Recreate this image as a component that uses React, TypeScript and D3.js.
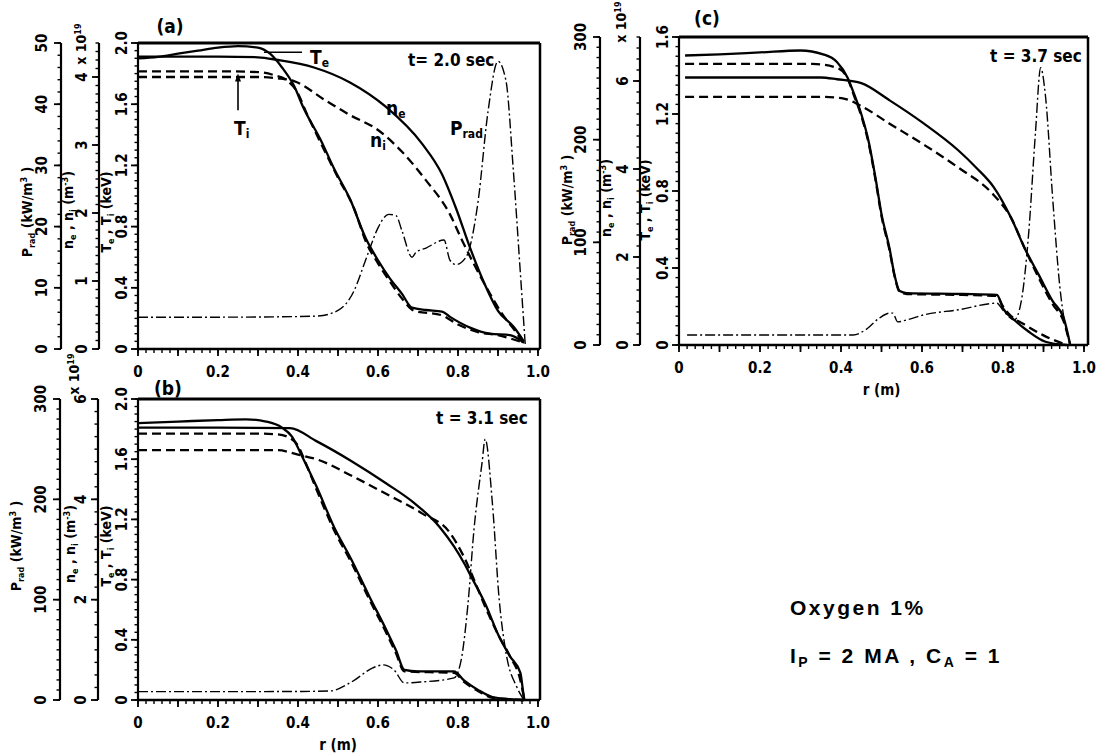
import React from "react";
import * as d3 from "d3";

type Pt = [number, number];

// ---------------- panel (a) : t = 2.0 sec ----------------
const aTe: Pt[] = [[0,1.90],[0.05,1.91],[0.1,1.93],[0.15,1.95],[0.2,1.97],[0.25,1.98],[0.3,1.97],[0.33,1.93],[0.36,1.84],[0.39,1.72],[0.413,1.58],[0.458,1.36],[0.49,1.18],[0.53,0.98],[0.57,0.72],[0.6,0.58],[0.63,0.46],[0.66,0.36],[0.685,0.27],[0.72,0.255],[0.76,0.245],[0.78,0.21],[0.83,0.14],[0.88,0.10],[0.93,0.09],[0.965,0.04]];
const aTi: Pt[] = [[0,1.815],[0.1,1.815],[0.2,1.815],[0.3,1.81],[0.34,1.79],[0.37,1.76],[0.4,1.67],[0.42,1.55],[0.46,1.33],[0.5,1.12],[0.54,0.92],[0.57,0.70],[0.6,0.56],[0.63,0.44],[0.66,0.33],[0.69,0.25],[0.76,0.22],[0.8,0.16],[0.85,0.11],[0.9,0.09],[0.965,0.04]];
const aNe: Pt[] = [[0,4.30],[0.1,4.30],[0.2,4.30],[0.3,4.29],[0.35,4.25],[0.44,4.14],[0.53,3.92],[0.62,3.56],[0.71,3.02],[0.76,2.57],[0.795,2.07],[0.83,1.49],[0.867,0.95],[0.9,0.56],[0.94,0.32],[0.965,0.11]];
const aNi: Pt[] = [[0,4.0],[0.2,4.0],[0.3,4.0],[0.35,3.98],[0.39,3.94],[0.47,3.65],[0.53,3.44],[0.6,3.22],[0.66,2.9],[0.72,2.48],[0.78,1.98],[0.81,1.6],[0.867,0.95],[0.91,0.52],[0.947,0.23],[0.965,0.07]];
const aPrad: Pt[] = [[0,5.2],[0.2,5.2],[0.4,5.3],[0.45,5.4],[0.5,6.3],[0.54,9.5],[0.565,13.8],[0.58,16.5],[0.6,19.8],[0.627,22],[0.645,21.8],[0.66,19.3],[0.685,15],[0.695,15.8],[0.72,16.5],[0.765,17.8],[0.78,14.5],[0.795,13.8],[0.82,15],[0.85,24],[0.875,38.8],[0.9,47],[0.92,43.8],[0.938,29.5],[0.955,13.3],[0.968,0.8]];
const aKeVTicks = [0, 0.4, 0.8, 1.2, 1.6, 2.0];
const aKeVLabels = ["0", "0.4", "0.8", "1.2", "1.6", "2.0"];
const aNTicks = [0, 1, 2, 3, 4];
const aPTicks = [0, 10, 20, 30, 40, 50];

// ---------------- panel (b) : t = 3.1 sec ----------------
const bTe: Pt[] = [[0,1.84],[0.1,1.85],[0.2,1.86],[0.27,1.865],[0.32,1.85],[0.36,1.81],[0.385,1.75],[0.41,1.62],[0.446,1.42],[0.49,1.15],[0.534,0.93],[0.578,0.69],[0.62,0.47],[0.645,0.33],[0.666,0.20],[0.7,0.19],[0.79,0.19],[0.815,0.13],[0.85,0.067],[0.886,0.02],[0.93,0.005],[0.965,0]];
const bTi: Pt[] = [[0,1.77],[0.2,1.77],[0.3,1.77],[0.35,1.765],[0.38,1.74],[0.4,1.69],[0.42,1.57],[0.446,1.40],[0.49,1.13],[0.534,0.91],[0.578,0.67],[0.62,0.45],[0.645,0.31],[0.666,0.19],[0.79,0.18],[0.815,0.12],[0.85,0.06],[0.886,0.015],[0.965,0]];
const bNe: Pt[] = [[0,5.43],[0.2,5.43],[0.38,5.42],[0.446,5.16],[0.534,4.76],[0.62,4.32],[0.69,3.93],[0.754,3.45],[0.79,3.06],[0.815,2.73],[0.833,2.46],[0.868,1.92],[0.903,1.26],[0.93,0.87],[0.956,0.54],[0.963,0.15],[0.966,0]];
const bNi: Pt[] = [[0,4.98],[0.2,4.98],[0.35,4.98],[0.4,4.89],[0.446,4.8],[0.534,4.47],[0.62,4.11],[0.71,3.72],[0.78,3.33],[0.815,2.85],[0.84,2.4],[0.868,1.86],[0.903,1.26],[0.93,0.87],[0.956,0.39],[0.966,0]];
const bPrad: Pt[] = [[0,8.3],[0.2,8.3],[0.4,8.5],[0.48,9],[0.534,18],[0.587,32],[0.613,35],[0.64,30],[0.666,17],[0.71,18],[0.79,22],[0.808,40],[0.825,96],[0.84,170],[0.86,236],[0.868,260],[0.886,196],[0.903,100],[0.92,47],[0.947,13],[0.965,0]];
const bKeVTicks = [0, 0.4, 0.8, 1.2, 1.6, 2.0];
const bKeVLabels = ["0", "0.4", "0.8", "1.2", "1.6", "2.0"];
const bNTicks = [0, 2, 4, 6];
const bPTicks = [0, 100, 200, 300];

// ---------------- panel (c) : t = 3.7 sec ----------------
const cTe: Pt[] = [[0.015,1.504],[0.1,1.51],[0.2,1.52],[0.3,1.53],[0.356,1.51],[0.39,1.47],[0.416,1.39],[0.433,1.30],[0.45,1.2],[0.468,1.06],[0.485,0.87],[0.5,0.68],[0.52,0.5],[0.532,0.365],[0.545,0.28],[0.562,0.27],[0.7,0.265],[0.785,0.26],[0.8,0.19],[0.828,0.13],[0.863,0.07],[0.905,0.017],[0.957,0]];
const cTi: Pt[] = [[0.015,1.46],[0.2,1.46],[0.33,1.46],[0.39,1.44],[0.416,1.385],[0.433,1.29],[0.45,1.19],[0.468,1.05],[0.485,0.86],[0.5,0.67],[0.52,0.49],[0.532,0.36],[0.545,0.275],[0.562,0.265],[0.7,0.26],[0.785,0.255],[0.8,0.2],[0.82,0.15],[0.85,0.11],[0.9,0.05],[0.957,0]];
const cNe: Pt[] = [[0.015,6.08],[0.2,6.08],[0.35,6.08],[0.39,6.04],[0.45,5.95],[0.52,5.56],[0.605,5.03],[0.69,4.42],[0.734,4.03],[0.777,3.59],[0.82,2.89],[0.854,2.19],[0.888,1.6],[0.923,0.99],[0.95,0.61],[0.966,0]];
const cNi: Pt[] = [[0.015,5.64],[0.2,5.64],[0.35,5.64],[0.407,5.6],[0.45,5.43],[0.52,5.03],[0.605,4.55],[0.69,4.03],[0.777,3.41],[0.82,2.89],[0.854,2.19],[0.888,1.53],[0.923,0.92],[0.95,0.53],[0.966,0]];
const cPrad: Pt[] = [[0.02,9.8],[0.43,9.8],[0.46,14.6],[0.494,26],[0.52,31],[0.528,31],[0.54,22.5],[0.562,24.4],[0.605,29.4],[0.69,34.3],[0.785,40.7],[0.8,33.8],[0.828,24.4],[0.845,42.4],[0.863,107],[0.88,206],[0.893,270],[0.905,242],[0.923,141],[0.94,58],[0.966,0]];
const cKeVTicks = [0, 0.4, 0.8, 1.2, 1.6];
const cKeVLabels = ["0", "0.4", "0.8", "1.2", "1.6"];
const cNTicks = [0, 2, 4, 6];
const cPTicks = [0, 100, 200, 300];

const rTicks = [0, 0.2, 0.4, 0.6, 0.8, 1.0];
const rLabels = ["0", "0.2", "0.4", "0.6", "0.8", "1.0"];

const FONT = "'Liberation Sans Narrow','DejaVu Sans Condensed','Liberation Sans',sans-serif";

const panels = [
  {
    tag: "(a)", time: "t= 2.0 sec", showR: false,
    te: aTe, ti: aTi, ne: aNe, ni: aNi, prad: aPrad,
    kMax: 2.0, nMax: 4.5, pMax: 50,
    kTicks: aKeVTicks, kLabels: aKeVLabels, nTicks: aNTicks, pTicks: aPTicks,
    kMinor: 0.05, nMinor: 0.125, pMinor: 2,
    L: { x0: 138, x1: 538, right: 540, top: 43, bottom: 349, pAxis: 61, nAxis: 99,
         tagX: 170, tagY: 26, timeX: 408, timeY: 66, pTitleX: 27, nTitleX: 68, tTitleX: 106, titleY: 212,
         expX: 81, expY: 44 },
  },
  {
    tag: "(b)", time: "t = 3.1 sec", showR: true,
    te: bTe, ti: bTi, ne: bNe, ni: bNi, prad: bPrad,
    kMax: 2.0, nMax: 6, pMax: 300,
    kTicks: bKeVTicks, kLabels: bKeVLabels, nTicks: bNTicks, pTicks: bPTicks,
    kMinor: 0.05, nMinor: 0.25, pMinor: 10,
    L: { x0: 138, x1: 538, right: 540, top: 399, bottom: 700, pAxis: 60, nAxis: 98,
         tagX: 168, tagY: 388, timeX: 436, timeY: 424, pTitleX: 16, nTitleX: 70, tTitleX: 106, titleY: 546,
         expX: 74, expY: 374 },
  },
  {
    tag: "(c)", time: "t = 3.7 sec", showR: true,
    te: cTe, ti: cTi, ne: cNe, ni: cNi, prad: cPrad,
    kMax: 1.6, nMax: 7, pMax: 300,
    kTicks: cKeVTicks, kLabels: cKeVLabels, nTicks: cNTicks, pTicks: cPTicks,
    kMinor: 0.05, nMinor: 0.25, pMinor: 10,
    L: { x0: 679, x1: 1084, right: 1088, top: 37, bottom: 345, pAxis: 600, nAxis: 640,
         tagX: 707, tagY: 18, timeX: 990, timeY: 62, pTitleX: 567, nTitleX: 606, tTitleX: 645, titleY: 200,
         expX: 621, expY: 22 },
  },
];

function RotLabel({ x, y, children, size = 15, weight = "bold" }: any) {
  return (
    <text transform={`translate(${x},${y}) rotate(-90)`} textAnchor="middle" dy="0.36em"
      fontSize={size} fontWeight={weight}>{children}</text>
  );
}

function VAxis({ x, scale, max, ticks, labels, minor, labelOff }: any) {
  const minorT = d3.range(0, max + 1e-9, minor);
  const [y0, y1] = scale.range();
  return (
    <g>
      <line x1={x} x2={x} y1={y0} y2={y1} stroke="#000" strokeWidth={2.2} />
      {minorT.map((t: number, i: number) => (
        <line key={"m" + i} x1={x} x2={x - 3.5} y1={scale(t)} y2={scale(t)} stroke="#000" strokeWidth={1.4} />
      ))}
      {ticks.map((t: number, i: number) => (
        <line key={"M" + i} x1={x} x2={x - 7} y1={scale(t)} y2={scale(t)} stroke="#000" strokeWidth={1.8} />
      ))}
      {ticks.map((t: number, i: number) => (
        <RotLabel key={"l" + i} x={x - labelOff} y={scale(t)}>{labels ? labels[i] : String(t)}</RotLabel>
      ))}
    </g>
  );
}

function Panel({ p }: any) {
  const L = p.L;
  const x = d3.scaleLinear().domain([0, 1]).range([L.x0, L.x1]);
  const yK = d3.scaleLinear().domain([0, p.kMax]).range([L.bottom, L.top]);
  const yN = d3.scaleLinear().domain([0, p.nMax]).range([L.bottom, L.top]);
  const yP = d3.scaleLinear().domain([0, p.pMax]).range([L.bottom, L.top]);
  const mk = (ys: any) => d3.line<Pt>().x((d) => x(d[0])).y((d) => ys(d[1])).curve(d3.curveMonotoneX);
  const solid = { fill: "none", stroke: "#000", strokeWidth: 2.3, strokeLinejoin: "round" as const };
  const dashed = { ...solid, strokeDasharray: "9 5" };
  const dashdot = { fill: "none", stroke: "#000", strokeWidth: 1.4, strokeDasharray: "10 3 2 3" };
  const xMinor = d3.range(0, 1.0001, 0.02);
  const xMajor = d3.range(0, 1.0001, 0.1);
  return (
    <g>
      {/* curves */}
      <path d={mk(yP)(p.prad) || ""} {...dashdot} />
      <path d={mk(yN)(p.ni) || ""} {...dashed} />
      <path d={mk(yK)(p.ti) || ""} {...dashed} />
      <path d={mk(yN)(p.ne) || ""} {...solid} />
      <path d={mk(yK)(p.te) || ""} {...solid} />
      {/* frame */}
      <line x1={L.x0} x2={L.right} y1={L.top} y2={L.top} stroke="#000" strokeWidth={3} />
      <line x1={L.right} x2={L.right} y1={L.top} y2={L.bottom} stroke="#000" strokeWidth={2.5} />
      <line x1={L.x0} x2={L.right} y1={L.bottom} y2={L.bottom} stroke="#000" strokeWidth={2.5} />
      {xMinor.map((t: number, i: number) => (
        <line key={"xm" + i} x1={x(t)} x2={x(t)} y1={L.bottom} y2={L.bottom + 4} stroke="#000" strokeWidth={1.4} />
      ))}
      {xMajor.map((t: number, i: number) => (
        <line key={"xM" + i} x1={x(t)} x2={x(t)} y1={L.bottom} y2={L.bottom + 7} stroke="#000" strokeWidth={1.8} />
      ))}
      {rTicks.map((t: number, i: number) => (
        <text key={"xl" + i} x={x(t)} y={L.bottom + 23} textAnchor="middle" dy="0.36em" fontSize={15} fontWeight="bold">{rLabels[i]}</text>
      ))}
      {p.showR && (
        <text x={x(0.5)} y={L.bottom + 45} textAnchor="middle" dy="0.36em" fontSize={15} fontWeight="bold">r  (m)</text>
      )}
      {/* left axes */}
      <VAxis x={L.x0} scale={yK} max={p.kMax} ticks={p.kTicks} labels={p.kLabels} minor={p.kMinor} labelOff={16} />
      <VAxis x={L.nAxis} scale={yN} max={p.nMax} ticks={p.nTicks} minor={p.nMinor} labelOff={17} />
      <VAxis x={L.pAxis} scale={yP} max={p.pMax} ticks={p.pTicks} minor={p.pMinor} labelOff={19} />
      {/* axis titles */}
      <text transform={`translate(${L.pTitleX},${L.titleY}) rotate(-90)`} textAnchor="middle" dy="0.36em" fontSize={14} fontWeight="bold">
        <tspan>P</tspan><tspan fontSize={9} dy={3}>rad</tspan><tspan dy={-3}>{"  (kW/m"}</tspan><tspan fontSize={9} dy={-5}>3</tspan><tspan dy={5}>{" )"}</tspan>
      </text>
      <text transform={`translate(${L.nTitleX},${L.titleY - 2}) rotate(-90)`} textAnchor="middle" dy="0.36em" fontSize={14} fontWeight="bold">
        <tspan>n</tspan><tspan fontSize={9} dy={3}>e</tspan><tspan dy={-3}>{" , n"}</tspan><tspan fontSize={9} dy={3}>i</tspan><tspan dy={-3}>{"  (m"}</tspan><tspan fontSize={9} dy={-5}>-3</tspan><tspan dy={5}>)</tspan>
      </text>
      <text transform={`translate(${L.tTitleX},${L.titleY}) rotate(-90)`} textAnchor="middle" dy="0.36em" fontSize={14} fontWeight="bold">
        <tspan>T</tspan><tspan fontSize={9} dy={3}>e</tspan><tspan dy={-3}>{" , T"}</tspan><tspan fontSize={9} dy={3}>i</tspan><tspan dy={-3}>{"  (keV)"}</tspan>
      </text>
      <text transform={`translate(${L.expX},${L.expY}) rotate(-90)`} textAnchor="middle" dy="0.36em" fontSize={14} fontWeight="bold">
        <tspan>x 10</tspan><tspan fontSize={9} dy={-5}>19</tspan>
      </text>
      {/* panel tag and time */}
      <text x={L.tagX} y={L.tagY} textAnchor="middle" dy="0.36em" fontSize={19} fontWeight="bold">{p.tag}</text>
      <text x={L.timeX} y={L.timeY} fontSize={17} fontWeight="bold">{p.time}</text>
    </g>
  );
}

function Annotations() {
  const L = panels[0].L;
  const x = d3.scaleLinear().domain([0, 1]).range([L.x0, L.x1]);
  const yK = d3.scaleLinear().domain([0, 2.0]).range([L.bottom, L.top]);
  const ax = x(0.25);
  const ay = yK(1.80);
  return (
    <g fontWeight="bold">
      <line x1={x(0.315)} x2={x(0.41)} y1={yK(1.94)} y2={yK(1.94)} stroke="#000" strokeWidth={1.6} />
      <text x={x(0.43)} y={yK(1.86)} fontSize={19}>T<tspan fontSize={12} dy={3}>e</tspan></text>
      <line x1={ax} x2={ax} y1={ay + 4} y2={yK(1.56)} stroke="#000" strokeWidth={1.6} />
      <path d={`M${ax},${ay} L${ax - 3},${ay + 8} L${ax + 3},${ay + 8} Z`} fill="#000" />
      <text x={x(0.24)} y={yK(1.40)} fontSize={19}>T<tspan fontSize={12} dy={3}>i</tspan></text>
      <text x={x(0.62)} y={yK(1.53)} fontSize={19}>n<tspan fontSize={12} dy={3}>e</tspan></text>
      <text x={x(0.58)} y={yK(1.32)} fontSize={19}>n<tspan fontSize={12} dy={3}>i</tspan></text>
      <text x={x(0.78)} y={yK(1.40)} fontSize={19}>P<tspan fontSize={12} dy={3}>rad</tspan></text>
    </g>
  );
}

export default function App() {
  return (
    <svg width={1105} height={756} style={{ position: "absolute", left: 0, top: 0, background: "#fff" }} fontFamily={FONT}>
      <rect width={1105} height={756} fill="#fff" />
      {panels.map((p) => <Panel key={p.tag} p={p} />)}
      <Annotations />
      <g fontFamily="'Liberation Sans','DejaVu Sans',sans-serif" fontWeight="bold" fontSize={21} letterSpacing={2.5}>
        <text x={790} y={615}>Oxygen  1%</text>
        <text x={790} y={663}>I<tspan fontSize={14} dy={4}>P</tspan><tspan dy={-4}>{" = 2 MA ,  C"}</tspan><tspan fontSize={14} dy={4}>A</tspan><tspan dy={-4}>{" = 1"}</tspan></text>
      </g>
    </svg>
  );
}
